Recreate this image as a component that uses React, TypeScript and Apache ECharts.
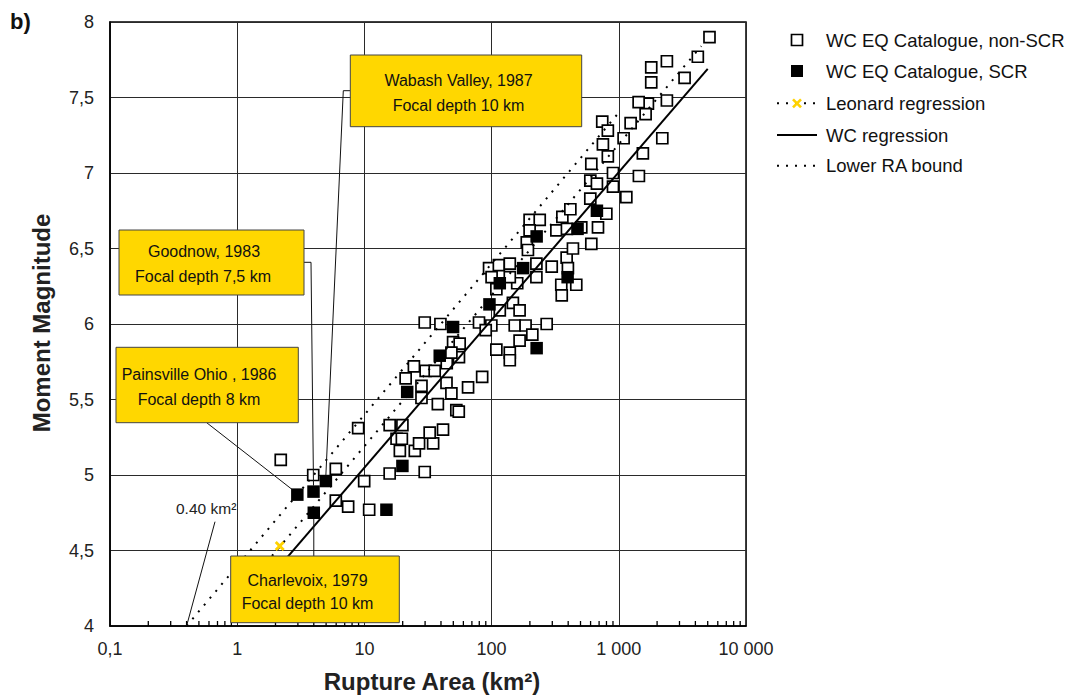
import React, { useEffect, useRef } from "react";
import * as echarts from "echarts";

// ---- data (rupture area km², moment magnitude) ----
const nonScrPoints: number[][] = [
  [2.2, 5.1], [3.96, 5.0], [5.96, 5.04], [5.96, 4.83], [7.45, 4.79], [9.96, 4.96], [10.9, 4.77], [8.93, 5.31],
  [15.8, 5.33], [17.9, 5.24], [19.9, 5.33], [19.7, 5.24], [15.8, 5.01], [19.0, 5.16], [24.9, 5.16], [26.9, 5.21],
  [34.7, 5.21], [32.6, 5.28], [41.5, 5.3], [29.8, 5.02], [24.5, 5.72], [21.1, 5.64], [28.1, 5.59], [28.1, 5.51],
  [37.8, 5.47], [30.3, 5.69], [35.7, 5.69], [44.2, 5.61], [48.3, 5.54], [44.4, 5.74], [52.8, 5.43], [55.2, 5.42],
  [65.3, 5.58], [84.3, 5.65], [49.8, 5.88], [55.4, 5.78], [109, 5.83], [56.1, 5.87], [48.3, 5.81], [29.8, 6.01],
  [39.6, 6.0], [79.6, 6.01], [99.5, 5.99], [89.9, 5.96], [116, 6.09], [147, 6.14], [152, 5.99], [166, 6.09],
  [185, 5.99], [271, 6.0], [166, 5.89], [209, 5.93], [139, 5.81], [139, 5.76], [95.5, 6.37], [114, 6.39],
  [139, 6.4], [100, 6.31], [109, 6.23], [159, 6.27], [139, 6.31], [225, 6.4], [225, 6.31], [297, 6.38],
  [189, 6.54], [193, 6.49], [323, 6.62], [389, 6.44], [436, 6.5], [398, 6.37], [353, 6.26], [356, 6.19],
  [463, 6.26], [199, 6.69], [239, 6.69], [199, 6.62], [360, 6.71], [416, 6.76], [391, 6.63], [507, 6.64],
  [608, 6.53], [686, 6.64], [798, 6.73], [597, 6.83], [597, 6.95], [673, 6.93], [608, 7.06], [900, 7.0],
  [900, 6.91], [1146, 6.84], [1439, 6.98], [820, 7.11], [750, 7.19], [1091, 7.23], [1546, 7.13],
  [5164, 7.9], [4180, 7.77], [3289, 7.63], [2388, 7.74], [1799, 7.7], [1799, 7.6], [2388, 7.48], [1694, 7.46],
  [1432, 7.47], [1625, 7.39], [1239, 7.33], [741, 7.34], [820, 7.28], [2198, 7.23],
];

const scrPoints: number[][] = [
  [2.97, 4.87], [3.98, 4.89], [4.98, 4.96], [4.0, 4.75], [14.9, 4.77], [19.9, 5.06], [21.7, 5.55], [39.1, 5.79],
  [49.8, 5.98], [96.2, 6.13], [116, 6.27], [177, 6.37], [226, 6.58], [474, 6.63], [673, 6.75], [396, 6.31], [226, 5.84],
];

const wcRegressionLine: number[][] = [[1, 4.07], [5000, 7.69]];
const leonardLine: number[][] = [[1, 4.19], [4450, 7.84]];
const leonardMarker: number[][] = [[2.16, 4.53]];
const lowerRaBoundLine: number[][] = [[0.4, 4.0], [1000, 7.4]];

const xTickLabels = ["0,1", "1", "10", "100", "1 000", "10 000"];
const minorTickDecades = [0.1, 1, 10, 100, 1000];
const minorTickMultipliers = [2, 3, 4, 5, 6, 7, 8, 9];

// annotation targets (points the leader lines refer to)
const wabashTarget = [4.98, 4.96];
const goodnowTarget = [3.98, 4.89];
const painsvilleTarget = [2.97, 4.87];
const charlevoixTarget = [4.0, 4.75];
const minAreaTarget = [0.4, 4.0];

const legendLabels = [
  "WC EQ Catalogue, non-SCR",
  "WC EQ Catalogue, SCR",
  "Leonard regression",
  "WC regression",
  "Lower RA bound",
];

const FONT = "'Liberation Sans', Arial, sans-serif";
const GOLD = "#FFD700";

export default function App() {
  const ref = useRef<HTMLDivElement>(null);

  useEffect(() => {
    const el = ref.current as HTMLDivElement;
    const chart = echarts.init(el, undefined, { renderer: "svg" });

    const minorTicks: number[][] = [];
    minorTickDecades.forEach((d) =>
      minorTickMultipliers.forEach((m) => minorTicks.push([d * m, 4]))
    );

    const dotted = [2, 7];

    chart.setOption({
      animation: false,
      backgroundColor: "#ffffff",
      grid: {
        left: 110,
        top: 22,
        width: 636,
        height: 604,
        show: true,
        borderColor: "#000",
        borderWidth: 1.5,
        backgroundColor: "transparent",
      },
      xAxis: {
        type: "log",
        logBase: 10,
        min: 0.1,
        max: 10000,
        splitNumber: 5,
        axisLine: { show: true, lineStyle: { color: "#000", width: 1.5 } },
        axisTick: { show: false },
        splitLine: { show: true, lineStyle: { color: "#2a2a2a", width: 1 } },
        axisLabel: {
          margin: 14,
          fontFamily: FONT,
          fontSize: 18,
          color: "#222",
          formatter: (v: number) => {
            const i = Math.round(Math.log10(v)) + 1;
            return xTickLabels[i] ?? String(v);
          },
        },
      },
      yAxis: {
        type: "value",
        min: 4,
        max: 8,
        interval: 0.5,
        axisLine: { show: true, lineStyle: { color: "#000", width: 1.5 } },
        axisTick: { show: false },
        splitLine: { show: true, lineStyle: { color: "#2a2a2a", width: 1 } },
        axisLabel: {
          margin: 16,
          fontFamily: FONT,
          fontSize: 18,
          color: "#222",
          formatter: (v: number) => String(v).replace(".", ","),
        },
      },
      series: [
        {
          name: "minor ticks",
          type: "scatter",
          data: minorTicks,
          symbol: "rect",
          symbolSize: [1.3, 5],
          symbolOffset: [0, -2.5],
          itemStyle: { color: "#000", opacity: 1 },
          silent: true,
          z: 1,
        },
        {
          name: legendLabels[0],
          type: "scatter",
          data: nonScrPoints,
          symbol: "rect",
          symbolSize: 11,
          itemStyle: { color: "#fff", borderColor: "#000", borderWidth: 1.7, opacity: 1 },
          z: 2,
        },
        {
          name: legendLabels[1],
          type: "scatter",
          data: scrPoints,
          symbol: "rect",
          symbolSize: 12.5,
          itemStyle: { color: "#000", opacity: 1 },
          z: 3,
        },
        {
          name: legendLabels[2],
          type: "line",
          data: leonardLine,
          showSymbol: false,
          symbol: "none",
          lineStyle: { color: "#000", width: 2, type: dotted },
          z: 4,
        },
        {
          name: legendLabels[3],
          type: "line",
          data: wcRegressionLine,
          showSymbol: false,
          symbol: "none",
          lineStyle: { color: "#000", width: 2 },
          z: 4,
        },
        {
          name: legendLabels[4],
          type: "line",
          data: lowerRaBoundLine,
          showSymbol: false,
          symbol: "none",
          lineStyle: { color: "#000", width: 2, type: dotted },
          z: 4,
        },
        {
          name: "Leonard marker",
          type: "scatter",
          data: leonardMarker,
          symbol:
            "path://M0,2 L2,0 L5,3 L8,0 L10,2 L7,5 L10,8 L8,10 L5,7 L2,10 L0,8 L3,5 Z",
          symbolSize: 10,
          itemStyle: { color: "#FFD200", opacity: 1 },
          z: 5,
        },
      ],
    });

    const px = (p: number[]) =>
      chart.convertToPixel({ gridIndex: 0 } as any, p) as unknown as number[];

    const wab = px(wabashTarget);
    const goo = px(goodnowTarget);
    const pai = px(painsvilleTarget);
    const cha = px(charlevoixTarget);
    const minA = px(minAreaTarget);

    const leader = { stroke: "#111", lineWidth: 1, fill: null };
    const boxStyle = { fill: GOLD, stroke: "#444", lineWidth: 1 };
    const boxText = (x: number, y: number, text: string) => ({
      type: "text",
      x,
      y,
      z: 101,
      style: {
        text,
        fontFamily: FONT,
        fontSize: 16,
        fill: "#111",
        textAlign: "center",
        textVerticalAlign: "middle",
      },
    });

    const legendY = [40, 71, 103.3, 135, 165.7];
    const lx0 = 777;
    const lx1 = 817;
    const lxc = 797;

    const graphics: any[] = [
      // leader lines
      { type: "polyline", z: 100, shape: { points: [[350, 90.7], [343.3, 90.7], [wab[0], wab[1] - 6]] }, style: leader },
      { type: "polyline", z: 100, shape: { points: [[304, 262.3], [311, 262.3], [goo[0], goo[1] - 6]] }, style: leader },
      { type: "line", z: 100, shape: { x1: 206.7, y1: 422.7, x2: pai[0] - 5, y2: pai[1] - 5 }, style: leader },
      { type: "line", z: 100, shape: { x1: cha[0], y1: 556, x2: cha[0], y2: cha[1] + 6 }, style: leader },
      { type: "line", z: 100, shape: { x1: 215, y1: 521.7, x2: minA[0], y2: minA[1] }, style: leader },
      // boxes
      { type: "rect", z: 100, shape: { x: 350.3, y: 55, width: 231.4, height: 71.7 }, style: boxStyle },
      boxText(458.5, 80, "Wabash Valley, 1987"),
      boxText(458.5, 105, "Focal depth 10 km"),
      { type: "rect", z: 100, shape: { x: 119, y: 230, width: 185, height: 65 }, style: boxStyle },
      boxText(204, 251.7, "Goodnow, 1983"),
      boxText(203, 276.7, "Focal depth 7,5 km"),
      { type: "rect", z: 100, shape: { x: 116, y: 347.3, width: 182.3, height: 75.4 }, style: boxStyle },
      boxText(199, 374.3, "Painsville Ohio , 1986"),
      boxText(199, 399, "Focal depth 8 km"),
      { type: "rect", z: 100, shape: { x: 230.7, y: 556, width: 168.6, height: 66.7 }, style: boxStyle },
      boxText(307.5, 580, "Charlevoix, 1979"),
      boxText(307.5, 603.3, "Focal depth 10 km"),
      // 0.40 km² label
      {
        type: "text",
        x: 176,
        y: 508,
        z: 101,
        style: {
          text: "0.40 km²",
          fontFamily: FONT,
          fontSize: 15.5,
          fill: "#222",
          textAlign: "left",
          textVerticalAlign: "middle",
        },
      },
      // axis titles
      {
        type: "text",
        x: 432,
        y: 681,
        z: 101,
        style: {
          text: "Rupture Area (km²)",
          fontFamily: FONT,
          fontWeight: "bold",
          fontSize: 24,
          fill: "#222",
          textAlign: "center",
          textVerticalAlign: "middle",
        },
      },
      {
        type: "text",
        x: 41,
        y: 323,
        rotation: Math.PI / 2,
        z: 101,
        style: {
          text: "Moment Magnitude",
          fontFamily: FONT,
          fontWeight: "bold",
          fontSize: 24,
          fill: "#222",
          textAlign: "center",
          textVerticalAlign: "middle",
        },
      },
      {
        type: "text",
        x: 10,
        y: 21,
        z: 101,
        style: {
          text: "b)",
          fontFamily: FONT,
          fontWeight: "bold",
          fontSize: 22,
          fill: "#111",
          textAlign: "left",
          textVerticalAlign: "middle",
        },
      },
      // legend icons
      { type: "rect", z: 100, shape: { x: lxc - 5.5, y: legendY[0] - 5.5, width: 11, height: 11 }, style: { fill: "#fff", stroke: "#000", lineWidth: 1.7 } },
      { type: "rect", z: 100, shape: { x: lxc - 6, y: legendY[1] - 6, width: 12, height: 12 }, style: { fill: "#000" } },
      { type: "line", z: 100, shape: { x1: lx0, y1: legendY[2], x2: lx1, y2: legendY[2] }, style: { stroke: "#000", lineWidth: 2, lineDash: dotted } },
      { type: "line", z: 101, shape: { x1: lxc - 4, y1: legendY[2] - 4, x2: lxc + 4, y2: legendY[2] + 4 }, style: { stroke: "#FFD200", lineWidth: 2.6 } },
      { type: "line", z: 101, shape: { x1: lxc - 4, y1: legendY[2] + 4, x2: lxc + 4, y2: legendY[2] - 4 }, style: { stroke: "#FFD200", lineWidth: 2.6 } },
      { type: "line", z: 100, shape: { x1: lx0, y1: legendY[3], x2: lx1, y2: legendY[3] }, style: { stroke: "#000", lineWidth: 2 } },
      { type: "line", z: 100, shape: { x1: lx0, y1: legendY[4], x2: lx1, y2: legendY[4] }, style: { stroke: "#000", lineWidth: 2, lineDash: dotted } },
    ];
    legendLabels.forEach((t, i) =>
      graphics.push({
        type: "text",
        x: 826,
        y: legendY[i],
        z: 101,
        style: {
          text: t,
          fontFamily: FONT,
          fontSize: 18.5,
          fill: "#111",
          textAlign: "left",
          textVerticalAlign: "middle",
        },
      })
    );

    chart.setOption({ graphic: graphics });

    return () => {
      chart.dispose();
    };
  }, []);

  return (
    <div
      ref={ref}
      style={{ position: "fixed", left: 0, top: 0, width: 1070, height: 697, background: "#fff" }}
    />
  );
}
